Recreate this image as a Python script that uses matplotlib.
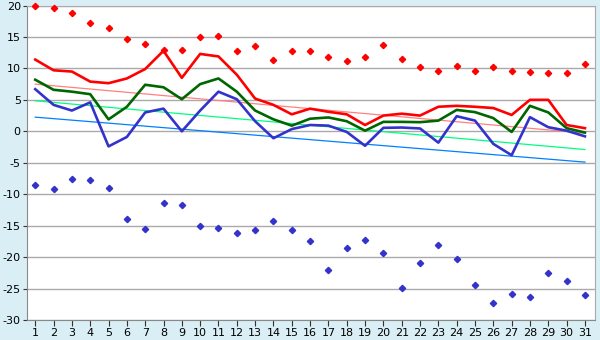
import matplotlib
matplotlib.use("Agg")
import matplotlib.pyplot as plt
import numpy as np

plt.rcParams["axes.unicode_minus"] = False

days = list(range(1, 32))
tmax = [11.4, 9.7, 9.5, 7.9, 7.65, 8.4, 9.9, 12.8, 8.5, 12.3, 11.9, 9.0, 5.2, 4.2, 2.7, 3.6,
        3.1, 2.7, 1.0, 2.5, 2.8, 2.5, 3.9, 4.05, 3.9, 3.7, 2.6, 5.0, 5.0, 1.0, 0.5]
tmean = [8.2, 6.6, 6.3, 5.9, 1.9, 3.9, 7.4, 7.0, 5.1, 7.5, 8.4, 6.3, 3.3, 1.9, 0.9, 2.0,
         2.2, 1.6, 0.1, 1.5, 1.5, 1.45, 1.7, 3.4, 3.05, 2.1, -0.1, 4.05, 3.0, 0.5, -0.2]
tmin = [6.7, 4.2, 3.3, 4.6, -2.4, -0.9, 3.0, 3.6, 0.0, 3.3, 6.3, 5.1, 1.6, -1.1, 0.35, 1.0,
        0.9, -0.1, -2.3, 0.55, 0.6, 0.45, -1.8, 2.4, 1.7, -2.0, -3.8, 2.25, 0.65, 0.1, -0.8]
rec_high = [20.0, 19.55, 18.75, 17.2, 16.5, 14.6, 13.8, 13.0, 13.0, 14.95, 15.15, 12.7, 13.5,
            11.3, 12.7, 12.7, 11.8, 11.1, 11.8, 13.7, 11.45, 10.2, 9.55, 10.35, 9.55, 10.2,
            9.55, 9.4, 9.2, 9.2, 10.65]
rec_low = [-8.55, -9.2, -7.6, -7.75, -9.0, -13.95, -15.5, -11.4, -11.7, -15.05, -15.4, -16.2,
           -15.7, -14.25, -15.7, -17.4, -22.0, -18.55, -17.3, -19.35, -24.9, -20.9, -18.05,
           -20.3, -24.4, -27.3, -25.85, -26.3, -22.5, -23.8, -26.0]
# trend lines (values at day 1 and day 31)
trend_max = [7.5, -0.3]
trend_mean = [4.85, -2.9]
trend_min = [2.25, -4.9]
yticks = list(range(-30, 21, 5))

bg = "#D9EEF5"
fig = plt.figure(figsize=(6, 3.4), dpi=100, facecolor=bg)
ax = fig.add_axes([27/600, 20/340, 568/600, 314.5/340])
ax.set_facecolor("white")

tx = [days[0], days[-1]]
ax.plot(tx, trend_max, color="#FF8080", lw=0.9, zorder=2)
ax.plot(tx, trend_mean, color="#00FF80", lw=0.9, zorder=2)
ax.plot(tx, trend_min, color="#0080FF", lw=0.9, zorder=2)

ax.plot(days, tmax, color="#FF0000", lw=1.9, zorder=3)
ax.plot(days, tmean, color="#006600", lw=1.9, zorder=3)
ax.plot(days, tmin, color="#3333CC", lw=1.9, zorder=3)

ax.plot(days, rec_high, ls="none", marker="D", ms=3.2, color="#FF0000", zorder=4, clip_on=False)
ax.plot(days, rec_low, ls="none", marker="D", ms=3.2, color="#3333CC", zorder=4, clip_on=False)

ax.set_xlim(0.55, 31.55)
ax.set_ylim(-30, 20)
ax.set_yticks(yticks)
ax.set_xticks(days)
ax.yaxis.grid(True, color="#AAAAAA", lw=1)
ax.set_axisbelow(True)
for s in ["left", "bottom"]:
    ax.spines[s].set_color("#888888")
for s in ["right", "top"]:
    ax.spines[s].set_color("#AAAAAA")
ax.tick_params(axis="both", labelsize=8, color="#333333", length=4, width=0.8,
               labelcolor="#000000", pad=2)
ax.tick_params(axis="y", length=3, pad=1.5)

fig.savefig("out.png", dpi=100, facecolor=bg)
